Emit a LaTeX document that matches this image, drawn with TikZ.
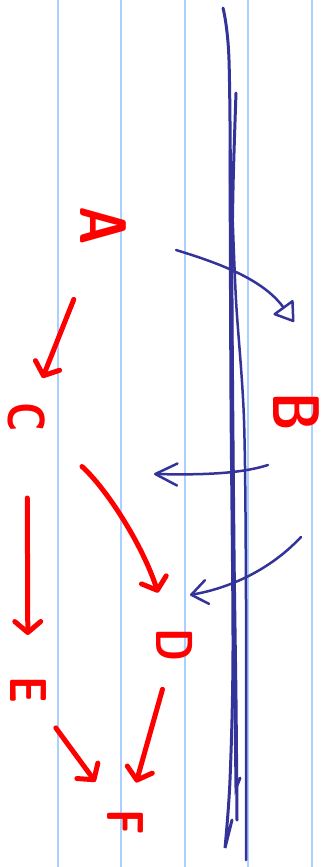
\documentclass[tikz,border=0pt]{standalone}
\usepackage{tikz}
\usetikzlibrary{arrows.meta}
\definecolor{inkblue}{RGB}{51,51,153}
\definecolor{gridblue}{RGB}{170,208,255}

\begin{document}
\begin{tikzpicture}[x=1pt,y=-1pt,
    letter/.style={text=red, font=\sffamily\bfseries\fontsize{52}{52}\selectfont, rotate=-90, xscale=0.8, inner sep=0pt},
    bigletter/.style={letter, font=\sffamily\bfseries\fontsize{66}{66}\selectfont},
    redarrow/.style={red, line width=5pt, line cap=round, -{Straight Barb[length=11pt,width=26pt,round]}},
    bluestroke/.style={inkblue, line width=3pt, line cap=round},
    bluearrow/.style={inkblue, line width=2.5pt, line cap=round}]
\useasboundingbox (0,0) rectangle (335,867);
\foreach \x in {58,121,185,248,312} {
    \draw[gridblue, line width=1.5pt] (\x,0) -- (\x,867);
}

\node[bigletter] (A) at (103,226) {A}; \node[bigletter] (B) at (296,412) {B}; \node[letter] (C) at (27,417) {C};
\node[letter] (D) at (175,645) {D}; \node[letter] (E) at (28,690) {E}; \node[letter] (F) at (125,822) {F};

\draw[redarrow, shorten <=79pt, shorten >=42pt] (A.center) -- (C.center);
\draw[redarrow, shorten <=74pt, shorten >=55pt] (C.center) to[bend left=15] (D.center);
\draw[redarrow, shorten <=81pt, shorten >=55pt] (C.center) -- (E.center);
\draw[redarrow, shorten <=46pt, shorten >=41pt] (D.center) -- (F.center);
\draw[redarrow, shorten <=47pt, shorten >=50pt] (E.center) -- (F.center);

\draw[bluestroke] plot[smooth] coordinates {(223,8) (229,60) (231,250) (233,500) (235,700) (236,788)} -- (240,778);
\draw[bluestroke] plot[smooth] coordinates {(236,93) (233,190) (232,300) (234,550) (236,700) (237,820)};
\draw[bluestroke, line width=2.5pt] plot[smooth] coordinates {(232,200) (236,300) (244,420) (246,600) (246,860)};
\draw[bluestroke] plot[smooth] coordinates {(230,150) (231,400) (233,650) (230,780) (225,848)} -- (232,820);

\draw[bluearrow, -{Triangle[open,length=20pt,width=26pt,round]}] (176,250) .. controls (215,262) and (262,278) .. (294,322);
\draw[bluearrow, -{Straight Barb[length=22pt,width=22pt,round]}] (268,465) .. controls (240,474) and (200,475) .. (154,474);
\draw[bluearrow, -{Straight Barb[length=16pt,width=24pt,round]}] (301,537) .. controls (270,570) and (230,588) .. (190,595);

\end{tikzpicture}
\end{document}
